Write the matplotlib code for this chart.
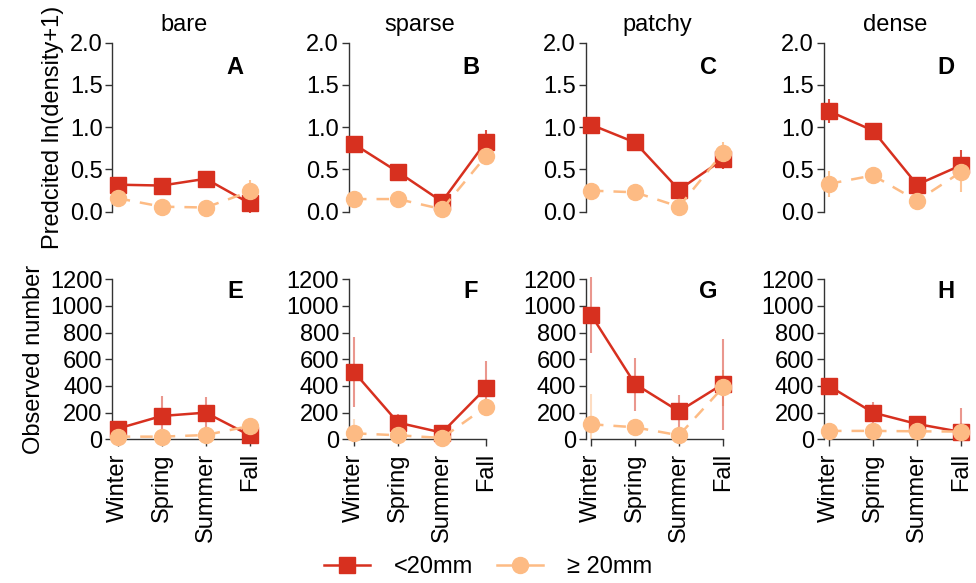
import matplotlib
matplotlib.use("Agg")
import matplotlib.pyplot as plt
from matplotlib.lines import Line2D
import numpy as np

plt.rcParams['font.family'] = ['Liberation Sans', 'DejaVu Sans']

seasons = ["Winter", "Spring", "Summer", "Fall"]
habitats = ["bare", "sparse", "patchy", "dense"]
letters_top = ["A", "B", "C", "D"]
letters_bottom = ["E", "F", "G", "H"]

# Predicted ln(density+1), <20mm
pred_small = [[0.32, 0.31, 0.39, 0.10],
              [0.80, 0.47, 0.12, 0.83],
              [1.03, 0.82, 0.26, 0.62],
              [1.19, 0.96, 0.32, 0.55]]
pred_small_lo = [[0.24, 0.27, 0.35, -0.02],
                 [0.75, 0.41, 0.06, 0.69],
                 [0.99, 0.78, 0.20, 0.50],
                 [1.05, 0.87, 0.27, 0.45]]
pred_small_hi = [[0.40, 0.35, 0.43, 0.22],
                 [0.86, 0.53, 0.18, 0.97],
                 [1.07, 0.86, 0.32, 0.72],
                 [1.33, 1.05, 0.37, 0.73]]
# Predicted, >=20mm
pred_large = [[0.16, 0.06, 0.05, 0.24],
              [0.15, 0.15, 0.03, 0.66],
              [0.25, 0.23, 0.06, 0.70],
              [0.33, 0.43, 0.13, 0.47]]
pred_large_lo = [[0.10, 0.03, 0.02, 0.14],
                 [0.11, 0.11, 0.00, 0.55],
                 [0.21, 0.19, 0.03, 0.60],
                 [0.18, 0.35, 0.08, 0.23]]
pred_large_hi = [[0.22, 0.09, 0.08, 0.37],
                 [0.19, 0.19, 0.06, 0.77],
                 [0.29, 0.27, 0.09, 0.82],
                 [0.48, 0.53, 0.18, 0.55]]

# Observed number, <20mm
obs_small = [[80, 175, 200, 30],
             [505, 125, 50, 385],
             [935, 415, 210, 415],
             [400, 200, 115, 55]]
obs_small_lo = [[40, 20, 80, 0],
                [245, 60, 10, 180],
                [650, 215, 80, 70],
                [360, 120, 60, 0]]
obs_small_hi = [[120, 325, 320, 60],
                [765, 190, 90, 590],
                [1220, 610, 335, 750],
                [440, 280, 175, 235]]
# Observed number, >=20mm
obs_large = [[20, 20, 32, 100],
             [45, 30, 10, 245],
             [113, 90, 30, 390],
             [63, 63, 60, 58]]
obs_large_lo = [[0, 0, 0, 60],
                [0, 0, 0, 200],
                [0, 40, 0, 250],
                [30, 30, 30, 20]]
obs_large_hi = [[40, 60, 70, 140],
                [150, 70, 30, 290],
                [340, 140, 70, 520],
                [96, 96, 90, 100]]

RED = "#d7301f"
ORANGE = "#fdbb84"
FS = 17

fig = plt.figure(figsize=(9.76, 5.83), dpi=100)

lefts = [0.1152, 0.3573, 0.6001, 0.8440]
width = 0.1461
top_bottom, top_height = 0.6252, 0.3132
bot_bottom, bot_height = 0.2355, 0.2964

x = np.arange(1, 5)


def style_axis(ax, ymax, yticks, yticklabels, show_x):
    for s in ["top", "right"]:
        ax.spines[s].set_visible(False)
    ax.spines["left"].set_bounds(0, ymax)
    ax.spines["left"].set_color("#333333")
    ax.spines["left"].set_linewidth(1.0)
    ax.set_yticks(yticks)
    ax.set_yticklabels(yticklabels)
    ax.tick_params(axis="y", length=5, width=1.0, color="#333333", labelsize=FS, pad=2)
    ax.set_xlim(0.88, 4.12)
    if show_x:
        ax.spines["bottom"].set_position(("data", 0))
        ax.spines["bottom"].set_bounds(1, 4)
        ax.spines["bottom"].set_color("#333333")
        ax.spines["bottom"].set_linewidth(1.0)
        ax.set_xticks(x)
        ax.set_xticklabels(seasons, rotation=90, va="top", ha="center")
        ax.tick_params(axis="x", length=5, width=1.0, color="#333333", labelsize=FS, pad=5)
    else:
        ax.spines["bottom"].set_visible(False)
        ax.set_xticks([])


def draw(ax, small, slo, shi, large, llo, lhi, ealpha):
    small = np.array(small); large = np.array(large)
    ax.vlines(x, llo, lhi, color=ORANGE, lw=1.5, alpha=ealpha, zorder=2, clip_on=False)
    ax.vlines(x, slo, shi, color=RED, lw=1.5, alpha=ealpha, zorder=2, clip_on=False)
    ax.plot(x, small, color=RED, lw=1.8, marker="s", markersize=11, zorder=3, clip_on=False)
    ax.plot(x, large, color=ORANGE, lw=1.8, ls=(0, (5, 4)), marker="o", markersize=11.5,
            zorder=4, clip_on=False)


for i in range(4):
    ax = fig.add_axes([lefts[i], top_bottom, width, top_height])
    draw(ax, pred_small[i], pred_small_lo[i], pred_small_hi[i],
         pred_large[i], pred_large_lo[i], pred_large_hi[i], 0.85)
    ax.set_ylim(-0.08, 2.08)
    style_axis(ax, 2.0, [0, 0.5, 1.0, 1.5, 2.0], ["0.0", "0.5", "1.0", "1.5", "2.0"], False)
    ax.set_title(habitats[i], fontsize=FS, pad=2)
    ax.text(3.66, 1.71, letters_top[i], fontsize=FS, fontweight="bold", ha="center", va="center")
    if i == 0:
        ax.set_ylabel("Predcited ln(density+1)", fontsize=FS, labelpad=4)

    ax2 = fig.add_axes([lefts[i], bot_bottom, width, bot_height])
    draw(ax2, obs_small[i], obs_small_lo[i], obs_small_hi[i],
         obs_large[i], obs_large_lo[i], obs_large_hi[i], 0.5)
    ax2.set_ylim(-48, 1248)
    yt = [0, 200, 400, 600, 800, 1000, 1200]
    style_axis(ax2, 1200, yt, [str(v) for v in yt], True)
    ax2.text(3.66, 1107, letters_bottom[i], fontsize=FS, fontweight="bold", ha="center", va="center")
    if i == 0:
        ax2.set_ylabel("Observed number", fontsize=FS, labelpad=4)

handles = [Line2D([], [], color=RED, lw=1.8, marker="s", markersize=11),
           Line2D([], [], color=ORANGE, lw=1.8, marker="o", markersize=11.5)]
fig.legend(handles, ["<20mm", "\u2265 20mm"], loc="center", bbox_to_anchor=(0.5, 0.027),
           ncol=2, frameon=False, fontsize=FS, handlelength=1.95, columnspacing=1.0,
           handletextpad=1.0)

fig.savefig("out.png", dpi=100)
